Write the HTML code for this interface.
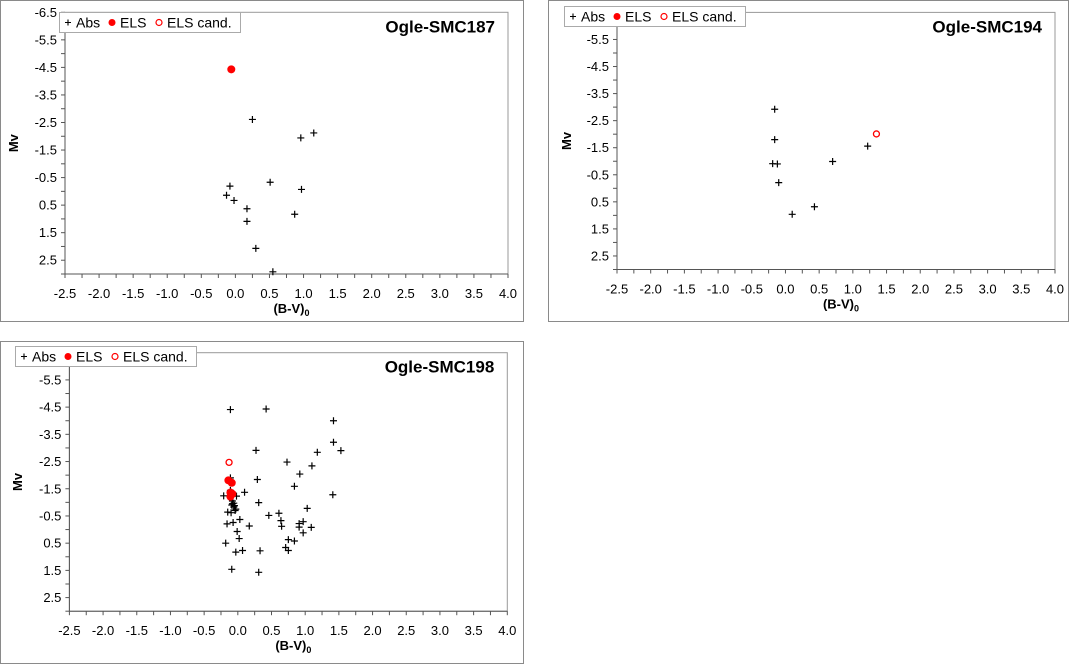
<!DOCTYPE html>
<html><head><meta charset="utf-8"><style>
html,body{margin:0;padding:0;background:#fff;}
svg{display:block;font-family:"Liberation Sans",sans-serif;}
</style></head><body>
<svg id="s" width="1072" height="664" viewBox="0 0 1072 664" xmlns="http://www.w3.org/2000/svg"></svg>
<script>
// Ogle-SMC187
const p1Abs = [[0.25,-2.61],[1.15,-2.12],[0.96,-1.94],[0.51,-0.33],[-0.08,-0.19],[0.97,-0.07],[-0.13,0.14],[-0.02,0.33],[0.17,0.63],[0.87,0.83],[0.17,1.09],[0.30,2.07],[0.55,2.92]];
const p1Els = [[-0.06,-4.43]];
const p1Cand = [];
// Ogle-SMC194
const p2Abs = [[-0.16,-2.92],[-0.16,-1.80],[-0.19,-0.91],[-0.12,-0.90],[0.70,-0.99],[1.22,-1.56],[-0.10,-0.21],[0.43,0.68],[0.10,0.96]];
const p2Els = [];
const p2Cand = [[1.35,-2.01]];
// Ogle-SMC198
const p3Abs = [[-0.11,-4.41],[0.42,-4.43],[1.42,-4.00],[1.42,-3.21],[1.53,-2.90],[0.27,-2.91],[1.18,-2.84],[0.73,-2.48],[1.10,-2.34],[0.92,-2.04],[0.29,-1.84],[-0.11,-1.90],[0.84,-1.59],[1.41,-1.28],[0.10,-1.37],[-0.21,-1.24],[-0.02,-1.23],[-0.11,-1.44],[0.31,-0.99],[-0.08,-0.95],[-0.06,-0.83],[-0.04,-0.70],[1.03,-0.78],[-0.15,-0.64],[-0.10,-0.62],[0.46,-0.52],[0.61,-0.60],[0.03,-0.37],[0.64,-0.33],[-0.16,-0.21],[-0.07,-0.26],[0.91,-0.22],[0.97,-0.29],[0.17,-0.13],[0.65,-0.12],[0.91,-0.09],[1.09,-0.08],[-0.01,0.07],[0.97,0.12],[0.02,0.33],[0.75,0.37],[0.84,0.42],[-0.18,0.50],[0.71,0.66],[0.75,0.77],[-0.03,0.83],[0.07,0.77],[0.33,0.78],[-0.09,1.46],[0.31,1.57],[-0.08,-1.05],[-0.06,-0.97],[-0.05,-0.88],[-0.03,-0.75],[-0.09,-0.90]];
const p3Els = [[-0.14,-1.81],[-0.09,-1.72],[-0.11,-1.36],[-0.08,-1.31],[-0.11,-1.21]];
const p3Cand = [[-0.13,-2.47]];
const xTickLabels = ["-2.5","-2.0","-1.5","-1.0","-0.5","0.0","0.5","1.0","1.5","2.0","2.5","3.0","3.5","4.0"];
const yTickLabels = ["-6.5","-5.5","-4.5","-3.5","-2.5","-1.5","-0.5","0.5","1.5","2.5"];

const NS="http://www.w3.org/2000/svg";
const svg=document.getElementById('s');
function mk(tag,attrs,parent){const e=document.createElementNS(NS,tag);for(const k in attrs)e.setAttribute(k,attrs[k]);(parent||svg).appendChild(e);return e;}

function panel(cfg){
  const g=mk('g',{});
  
  
  const box=mk('rect',{x:cfg.box[0]+0.5,y:cfg.box[1]+0.5,width:cfg.box[2],height:cfg.box[3],fill:'#fff',stroke:'#8a8a8a','stroke-width':1},g);
  
  
  const X=v=>cfg.x0+(v+2.5)/6.5*(cfg.x1-cfg.x0);
  const Y=v=>cfg.y0+(v+6.5)/9.5*(cfg.y1-cfg.y0);
  const frame=mk('rect',{x:cfg.x0,y:cfg.y0,width:cfg.x1-cfg.x0,height:cfg.y1-cfg.y0,fill:'none',stroke:'#999','stroke-width':1},g);
  
  
  mk('line',{x1:cfg.x0,y1:cfg.y0,x2:cfg.x0,y2:cfg.y1,stroke:'#555'},g);
  mk('line',{x1:cfg.x0,y1:cfg.y1,x2:cfg.x1,y2:cfg.y1,stroke:'#555'},g);
  for(let v=-2.5;v<=4.001;v+=0.25){mk('line',{x1:X(v),y1:cfg.y1,x2:X(v),y2:cfg.y1+4,stroke:'#555'},g);}
  for(let v=-6.5;v<=3.001;v+=0.5){mk('line',{x1:cfg.x0-4,y1:Y(v),x2:cfg.x0,y2:Y(v),stroke:'#555'},g);}
  xTickLabels.forEach(l=>{const t=mk('text',{x:X(parseFloat(l)),y:cfg.y1+24,'text-anchor':'middle','font-size':13},g);t.textContent=l;
    
    });
  yTickLabels.forEach(l=>{const t=mk('text',{x:cfg.x0-8,y:Y(parseFloat(l))+4.5,'text-anchor':'end','font-size':13},g);t.textContent=l;
    
    });
  const xt=mk('text',{x:(cfg.x0+cfg.x1)/2+5,y:cfg.y1+39,'text-anchor':'middle','font-size':13,'font-weight':'bold'},g);
  xt.innerHTML='(B-V)<tspan font-size="9" dy="3">0</tspan>';
  
  
  const yt=mk('text',{x:0,y:0,'text-anchor':'middle','font-size':13,'font-weight':'bold',transform:`translate(${cfg.ytx},${(cfg.y0+cfg.y1)/2}) rotate(-90)`},g);
  yt.textContent='Mv';
  
  
  const tt=mk('text',{x:cfg.x1-13,y:cfg.y0+20,'text-anchor':'end','font-size':17,'font-weight':'bold'},g);
  tt.textContent=cfg.title;
  
  
  cfg.abs.forEach(p=>{const px=X(p[0]),py=Y(p[1]);
    const m=mk('path',{d:`M${px-3.5} ${py}H${px+3.5}M${px} ${py-3.5}V${py+3.5}`,stroke:'#000','stroke-width':1.2},g);
    
    });
  cfg.els.forEach(p=>{const c=mk('circle',{cx:X(p[0]),cy:Y(p[1]),r:4,fill:'#f00'},g);
    
    });
  cfg.cand.forEach(p=>{const c=mk('circle',{cx:X(p[0]),cy:Y(p[1]),r:3,fill:'none',stroke:'#f00','stroke-width':1.3},g);
    
    });
  const L=cfg.leg;
  const lg=mk('g',{},g);
  
  
  mk('rect',{x:L[0]+0.5,y:L[1]+0.5,width:L[2],height:20,fill:'#fff',stroke:'#aaa'},lg);
  const lx=L[0],ly=L[1]+10.5;
  mk('path',{d:`M${lx+6} ${ly}h6M${lx+9} ${ly-3}v6`,stroke:'#000','stroke-width':1.1},lg);
  const t1=mk('text',{x:lx+17,y:ly+5,'font-size':14},lg);t1.textContent='Abs';
  mk('circle',{cx:lx+53,cy:ly,r:3.5,fill:'#f00'},lg);
  const t2=mk('text',{x:lx+61,y:ly+5,'font-size':14},lg);t2.textContent='ELS';
  mk('circle',{cx:lx+100,cy:ly,r:3,fill:'none',stroke:'#f00','stroke-width':1.2},lg);
  const t3=mk('text',{x:lx+108,y:ly+5,'font-size':14},lg);t3.textContent='ELS cand.';
}
panel({name:'panel-ogle-smc187',box:[0,0,523,321],x0:65,x1:508,y0:12.3,y1:274,ytx:18,title:'Ogle-SMC187',abs:p1Abs,els:p1Els,cand:p1Cand,leg:[59,12,181]});
panel({name:'panel-ogle-smc194',box:[548,0,520,321],x0:617,x1:1055,y0:12.4,y1:269.5,ytx:571,title:'Ogle-SMC194',abs:p2Abs,els:p2Els,cand:p2Cand,leg:[564,6,181]});
panel({name:'panel-ogle-smc198',box:[0,341,523,322],x0:69.4,x1:507.3,y0:352.7,y1:611.2,ytx:22,title:'Ogle-SMC198',abs:p3Abs,els:p3Els,cand:p3Cand,leg:[15,346,181]});
</script>
</body></html>
